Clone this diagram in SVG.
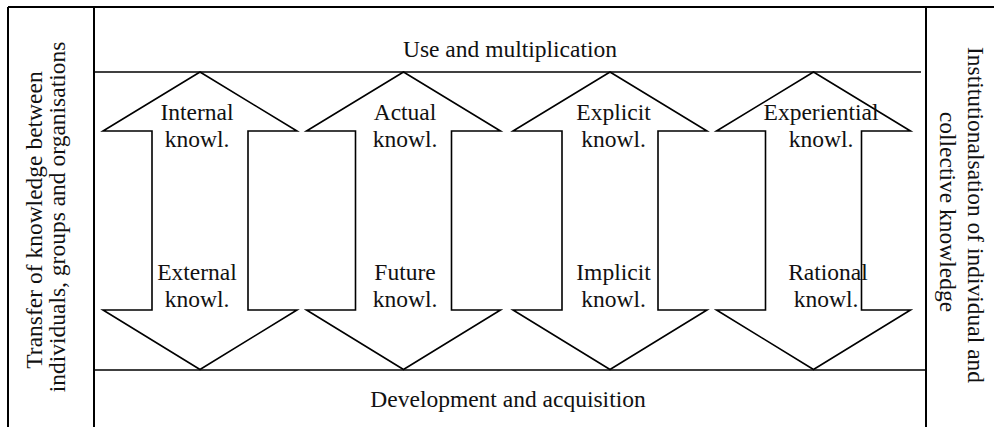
<svg xmlns="http://www.w3.org/2000/svg" width="994" height="427" viewBox="0 0 994 427">
  <style>
    .frame { stroke: #000; stroke-width: 2; fill: none; }
    .rule { stroke: #000; stroke-width: 1.6; fill: none; }
    .arrow { stroke: #000; stroke-width: 1.6; fill: none; stroke-linejoin: miter; }
    text { font-family: "Liberation Serif", "Times New Roman", serif; font-size: 23.5px; fill: #111; text-anchor: middle; }
  </style>
  <defs>
    <!-- double-headed block arrow, centred on x=0 -->
    <polygon id="dblArrow" class="arrow" points="0,72 97,131 48,131 48,310 97,310 0,369.5 -97,310 -48,310 -48,131 -97,131"/>
  </defs>

  <!-- outer frame and side bands -->
  <g id="frame">
    <line class="frame" x1="8" y1="7" x2="994" y2="7"/>
    <line class="frame" x1="8" y1="7" x2="8" y2="427"/>
    <line class="frame" x1="94" y1="7" x2="94" y2="427"/>
    <line class="frame" x1="926" y1="7" x2="926" y2="427"/>
  </g>

  <!-- horizontal boundaries of the central band -->
  <g id="connectors">
    <line class="rule" x1="93" y1="72" x2="921" y2="72"/>
    <line class="rule" x1="95" y1="370" x2="926" y2="370"/>
  </g>

  <g id="top-label">
    <text x="510" y="57">Use and multiplication</text>
  </g>
  <g id="bottom-label">
    <text x="508" y="406.5">Development and acquisition</text>
  </g>

  <g id="left-label">
    <text transform="translate(42,220) rotate(-90)">Transfer of knowledge between</text>
    <text transform="translate(65,217) rotate(-90)">individuals, groups and organisations</text>
  </g>
  <g id="right-label">
    <text transform="translate(968,215) rotate(90)">Institutionalsation of individual and</text>
    <text transform="translate(940,212) rotate(90)">collective knowledge</text>
  </g>

  <g id="arrow-1">
    <use href="#dblArrow" x="200"/>
    <text x="197" y="120">Internal</text>
    <text x="197" y="147">knowl.</text>
    <text x="197" y="280">External</text>
    <text x="197" y="306.5">knowl.</text>
  </g>
  <g id="arrow-2">
    <use href="#dblArrow" x="403.5"/>
    <text x="405" y="120">Actual</text>
    <text x="405" y="147">knowl.</text>
    <text x="405" y="280">Future</text>
    <text x="405" y="306.5">knowl.</text>
  </g>
  <g id="arrow-3">
    <use href="#dblArrow" x="610"/>
    <text x="613.5" y="120">Explicit</text>
    <text x="613.5" y="147">knowl.</text>
    <text x="613.5" y="280">Implicit</text>
    <text x="613.5" y="306.5">knowl.</text>
  </g>
  <g id="arrow-4">
    <use href="#dblArrow" x="813.5"/>
    <text x="821" y="120">Experiential</text>
    <text x="821" y="147">knowl.</text>
    <text x="828" y="280">Rational</text>
    <text x="826" y="306.5">knowl.</text>
  </g>
</svg>
